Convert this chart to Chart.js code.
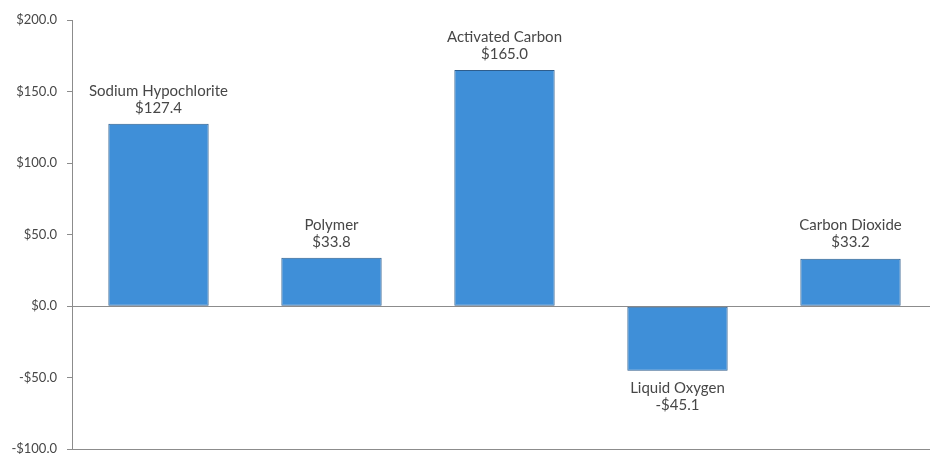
<!DOCTYPE html>
<html>
<head>
<meta charset="utf-8">
<script src="https://cdn.jsdelivr.net/npm/chart.js@4/dist/chart.umd.min.js"></script>
<style>
  html, body { margin: 0; padding: 0; background: #ffffff; overflow: hidden; }
  #wrap { position: relative; width: 940px; height: 467px; }
</style>
</head>
<body>
<div id="wrap"><canvas id="chart"></canvas></div>
<script>
// Chemical cost change by product ($)
const chemicals = ['Sodium Hypochlorite', 'Polymer', 'Activated Carbon', 'Liquid Oxygen', 'Carbon Dioxide'];
const costChange = [127.4, 33.8, 165.0, -45.1, 33.2];
const axisMin = -100;
const axisMax = 200;
const axisStep = 50;

const textColor = '#474747';
const lineColor = '#8c8c8c';
const fontFamily = 'Lato, "Open Sans", sans-serif';

function money(v) {
  return (v < 0 ? '-$' : '$') + Math.abs(v).toFixed(1);
}

// Two-line label (name, then value) over positive bars and under negative ones
const barLabels = {
  id: 'barLabels',
  afterDatasetsDraw(chart) {
    const ctx = chart.ctx;
    const meta = chart.getDatasetMeta(0);
    ctx.save();
    ctx.font = '15px ' + fontFamily;
    ctx.fillStyle = textColor;
    ctx.textAlign = 'center';
    ctx.textBaseline = 'middle';
    meta.data.forEach((bar, i) => {
      const v = costChange[i];
      const name = chemicals[i];
      if (v >= 0) {
        ctx.fillText(name, bar.x, bar.y - 33);
        ctx.fillText(money(v), bar.x, bar.y - 16);
      } else {
        ctx.fillText(name, bar.x, bar.y + 17);
        ctx.fillText(money(v), bar.x, bar.y + 34);
      }
    });
    ctx.restore();
  }
};

new Chart(document.getElementById('chart'), {
  type: 'bar',
  data: {
    labels: chemicals,
    datasets: [{
      data: costChange,
      backgroundColor: '#3f8fd8',
      borderColor: '#2e5d8c',
      borderWidth: 1,
      borderSkipped: false,
      barPercentage: 0.58,
      categoryPercentage: 1.0
    }]
  },
  options: {
    responsive: true,
    maintainAspectRatio: false,
    animation: false,
    layout: { padding: { top: 20, bottom: 0, right: 3, left: 0 } },
    plugins: {
      legend: { display: false },
      tooltip: { enabled: false }
    },
    scales: {
      x: {
        display: false
      },
      y: {
        min: axisMin,
        max: axisMax,
        afterFit(scale) { scale.width = 72; },
        border: { display: true, color: lineColor, width: 1 },
        grid: {
          drawOnChartArea: true,
          drawTicks: true,
          tickLength: 5,
          tickColor: lineColor,
          color: (c) => (c.tick && (c.tick.value === 0 || c.tick.value === axisMin)) ? lineColor : 'rgba(0,0,0,0)',
          lineWidth: 1
        },
        ticks: {
          stepSize: axisStep,
          padding: 10,
          color: textColor,
          font: { family: fontFamily, size: 13 },
          callback: (v) => money(v)
        }
      }
    }
  },
  plugins: [barLabels]
});
</script>
</body>
</html>
